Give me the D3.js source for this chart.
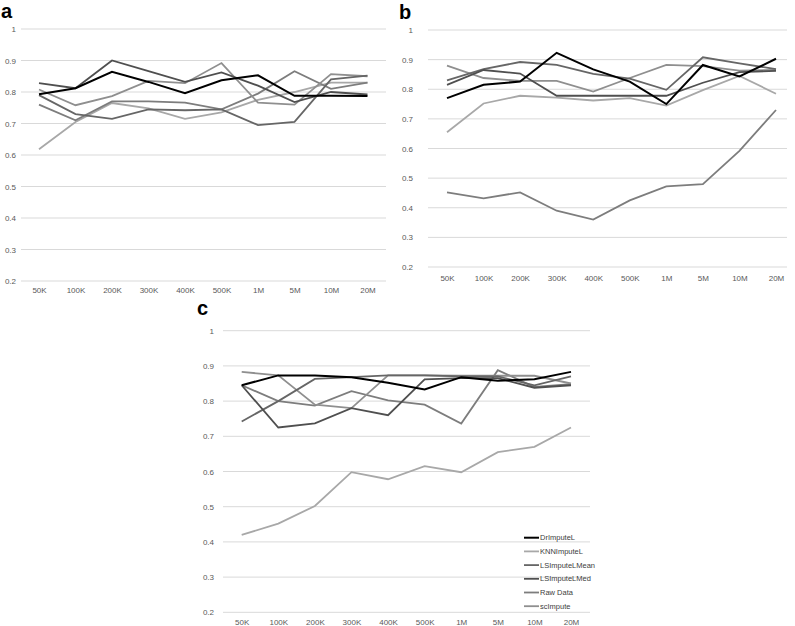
<!DOCTYPE html>
<html><head><meta charset="utf-8">
<script src="https://cdn.jsdelivr.net/npm/d3@7"></script>
<style>
html,body{margin:0;padding:0;background:#fff;}
svg text{font-family:"Liberation Sans","DejaVu Sans",sans-serif;}
</style></head>
<body><svg id="chart" width="795" height="626"></svg>
<script>
// ---- data ----
const categories = ["50K","100K","200K","300K","400K","500K","1M","5M","10M","20M"];
const yTicks = [0.2,0.3,0.4,0.5,0.6,0.7,0.8,0.9,1];
const methods = ["DrImputeL","KNNImputeL","LSImputeLMean","LSImputeLMed","Raw Data","scImpute"];
const methodColors = ["#000000","#a8a8a8","#666666","#4f4f4f","#7d7d7d","#8f8f8f"];

// panel a
const a_DrImputeL    = [0.793,0.812,0.864,0.832,0.796,0.837,0.853,0.788,0.788,0.787];
const a_KNNImputeL   = [0.618,0.705,0.765,0.748,0.715,0.735,0.775,0.800,0.830,0.830];
const a_LSImputeLMean= [0.790,0.730,0.715,0.745,0.742,0.745,0.695,0.705,0.840,0.852];
const a_LSImputeLMed = [0.828,0.812,0.900,0.866,0.832,0.862,0.820,0.768,0.800,0.792];
const a_RawData      = [0.760,0.710,0.770,0.770,0.766,0.745,0.795,0.866,0.810,0.830];
const a_scImpute     = [0.808,0.758,0.787,0.835,0.828,0.892,0.766,0.760,0.857,0.850];
// panel b
const b_DrImputeL    = [0.770,0.815,0.826,0.923,0.867,0.826,0.750,0.882,0.843,0.903];
const b_KNNImputeL   = [0.655,0.752,0.778,0.772,0.762,0.770,0.745,0.797,0.845,0.785];
const b_LSImputeLMean= [0.830,0.868,0.892,0.882,0.852,0.836,0.798,0.908,0.887,0.868];
const b_LSImputeLMed = [0.815,0.865,0.853,0.778,0.778,0.778,0.778,0.822,0.858,0.862];
const b_RawData      = [0.452,0.432,0.452,0.390,0.360,0.425,0.472,0.480,0.592,0.730];
const b_scImpute     = [0.880,0.838,0.828,0.828,0.792,0.838,0.882,0.878,0.863,0.865];
// panel c
const c_DrImputeL    = [0.845,0.873,0.873,0.868,0.852,0.833,0.868,0.858,0.862,0.883];
const c_KNNImputeL   = [0.420,0.452,0.502,0.598,0.578,0.615,0.598,0.655,0.670,0.725];
const c_LSImputeLMean= [0.742,0.800,0.863,0.868,0.873,0.873,0.870,0.870,0.845,0.870];
const c_LSImputeLMed = [0.845,0.725,0.737,0.780,0.760,0.862,0.865,0.865,0.838,0.845];
const c_RawData      = [0.845,0.800,0.787,0.828,0.802,0.790,0.736,0.888,0.840,0.848];
const c_scImpute     = [0.883,0.873,0.790,0.780,0.873,0.873,0.872,0.872,0.872,0.850];

const panels = [
  {label:"a", series:[a_DrImputeL,a_KNNImputeL,a_LSImputeLMean,a_LSImputeLMed,a_RawData,a_scImpute],
   gridX:[21,386], xr:[39,367.5], yr:[281,29], labelX:16, xLabelY:291, letter:[1,18], legend:false},
  {label:"b", series:[b_DrImputeL,b_KNNImputeL,b_LSImputeLMean,b_LSImputeLMed,b_RawData,b_scImpute],
   gridX:[428,787], xr:[447,776], yr:[267,30], labelX:413, xLabelY:279, letter:[399,19], legend:false},
  {label:"c", series:[c_DrImputeL,c_KNNImputeL,c_LSImputeLMean,c_LSImputeLMed,c_RawData,c_scImpute],
   gridX:[223,590], xr:[241.7,571], yr:[612.3,330.7], labelX:214, xLabelY:623, letter:[197,315], legend:true}
];

const svg = d3.select("#chart");
const drawOrder = [1,4,5,2,3,0]; // black on top

panels.forEach(p => {
  const g = svg.append("g");
  const x = d3.scalePoint().domain(categories).range(p.xr);
  const y = d3.scaleLinear().domain([0.2,1]).range(p.yr);

  // gridlines
  g.append("g").selectAll("line").data(yTicks).join("line")
    .attr("x1",p.gridX[0]).attr("x2",p.gridX[1])
    .attr("y1",d=>y(d)).attr("y2",d=>y(d))
    .attr("stroke","#d9d9d9").attr("stroke-width",1);

  // y axis labels
  const ya = g.append("g").attr("transform",`translate(${p.labelX},0)`)
    .call(d3.axisLeft(y).tickValues(yTicks).tickSize(0).tickPadding(0)
      .tickFormat(d => d===1 ? "1" : d3.format(".1f")(d)));
  ya.select(".domain").remove();
  ya.selectAll("text").attr("fill","#595959").style("font-size","8px");

  // x axis labels
  const xa = g.append("g").attr("transform",`translate(0,${p.xLabelY-6})`)
    .call(d3.axisBottom(x).tickSize(0).tickPadding(2));
  xa.select(".domain").remove();
  xa.selectAll("text").attr("fill","#595959").style("font-size","8px");

  // lines
  const line = d3.line().x((d,i)=>x(categories[i])).y(d=>y(d));
  drawOrder.forEach(k => {
    g.append("path").datum(p.series[k])
      .attr("d",line).attr("fill","none")
      .attr("stroke",methodColors[k])
      .attr("stroke-width", k===0 ? 2 : 1.8)
      .attr("stroke-linejoin","miter");
  });

  // panel letter
  svg.append("text").attr("x",p.letter[0]).attr("y",p.letter[1])
    .text(p.label).attr("font-weight","bold").style("font-size","20px")
    .attr("fill","#000");

  if (p.legend) {
    const lg = g.append("g");
    methods.forEach((m,i) => {
      const yy = 537.7 + i*13.7;
      lg.append("line").attr("x1",524).attr("x2",539).attr("y1",yy).attr("y2",yy)
        .attr("stroke",methodColors[i]).attr("stroke-width", i===0?2:1.8);
      lg.append("text").attr("x",540).attr("y",yy).attr("dy","0.35em")
        .text(m).style("font-size","7.5px").attr("fill","#404040");
    });
  }
});
</script></body></html>
